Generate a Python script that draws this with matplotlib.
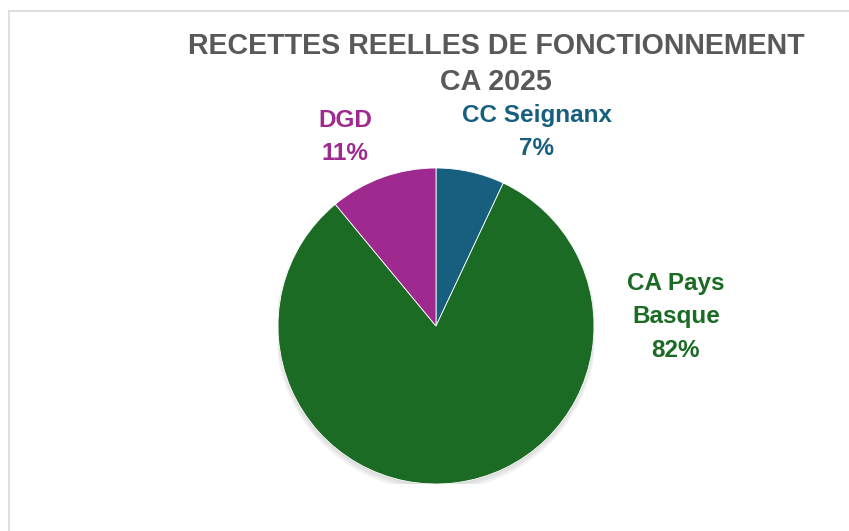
import matplotlib
matplotlib.use('Agg')
from matplotlib import pyplot as plt
from matplotlib.patches import Circle

# data
labels = ['CC Seignanx', 'CA Pays\nBasque', 'DGD']
shares = [7, 82, 11]
colors = ['#175f7f', '#1b6b24', '#9e2a8f']
title = 'RECETTES REELLES DE FONCTIONNEMENT\nCA 2025'

W, H = 849, 531
fig = plt.figure(figsize=(W / 100, H / 100), dpi=100, facecolor='white')
plt.rcParams['font.family'] = ['Liberation Sans', 'DejaVu Sans']

# chart frame (only top / left visible in the crop)
fig.add_artist(plt.Line2D([9 / W, 9 / W], [0, 1 - 11 / H], color='#d9d9d9', lw=1.2))
fig.add_artist(plt.Line2D([9 / W, 1], [1 - 11 / H, 1 - 11 / H], color='#d9d9d9', lw=1.2))

# pie axes, centre (436, 326) px, radius 158 px
cx, cy, r = 436, 326, 158
ax = fig.add_axes([(cx - r) / W, (H - cy - r) / H, 2 * r / W, 2 * r / H])
ax.set_xlim(-1, 1)
ax.set_ylim(-1, 1)
ax.set_aspect('equal')
ax.axis('off')

# soft shadow
for i, a in enumerate([0.05, 0.05, 0.05]):
    ax.add_patch(Circle((0.0, -0.012 - 0.008 * i), 1.0 + 0.008 * i, color='black', alpha=a, lw=0, zorder=0))

ax.pie(shares, colors=colors, startangle=90, counterclock=False, radius=1,
       wedgeprops=dict(linewidth=0.6, edgecolor='white'))
ax.set_xlim(-1, 1)
ax.set_ylim(-1, 1)

fig.text(496 / W, 1 - 64 / H, title, ha='center', va='center', fontsize=20.6,
         fontweight='bold', color='#595959', linespacing=1.34)

# label positions in pixels (centre of text block)
label_pos = [(537, 132), (676, 317), (345, 137)]
for lab, s, c, (px, py) in zip(labels, shares, colors, label_pos):
    fig.text(px / W, 1 - py / H, f'{lab}\n{s}%', ha='center', va='center',
             fontsize=17.5, fontweight='bold', color=c, linespacing=1.56)

fig.savefig('out.png', dpi=100, facecolor='white')
